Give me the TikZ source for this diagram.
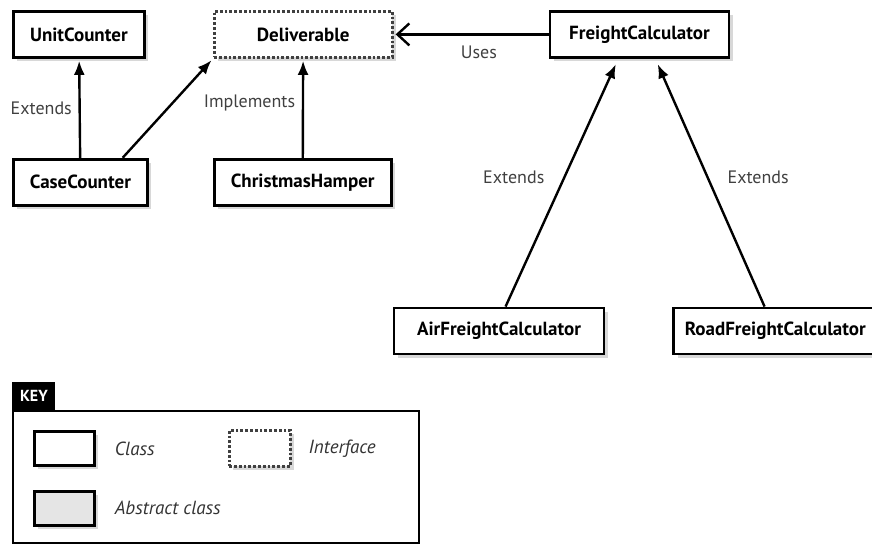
\documentclass[tikz,border=0pt]{standalone}
\usepackage{fontspec}
\setmainfont{PT Sans}
\usepackage{tikz}
\usetikzlibrary{arrows.meta, positioning, shadows}

\begin{document}
\begin{tikzpicture}[x=0.5pt, y=-0.5pt,
        cls/.style={draw, line width=1.4pt, fill=white, minimum height=23pt, inner sep=2pt,
            font=\bfseries\fontsize{9.5}{11}\selectfont,
            drop shadow={shadow xshift=2pt, shadow yshift=-2pt, fill=black!30}},
        iface/.style={cls, draw=black!75, densely dotted},
        abscls/.style={cls, fill=black!10},
        ext/.style={-{Latex[length=7pt, width=5.5pt]}, line width=1.2pt, shorten >=1pt},
        uses/.style={-{Straight Barb[length=6pt, width=11pt]}, line width=1.2pt, shorten >=1pt},
        lbl/.style={text=black!75, font=\fontsize{9}{11}\selectfont},
        keylbl/.style={text=black!80, font=\itshape\fontsize{9.5}{11}\selectfont}
    ]
        \useasboundingbox (0,0) rectangle (872,545);

        % Classes
        \node[cls, minimum width=65.5pt, anchor=north west] (unit) at (12,10) {UnitCounter};
        \node[iface, minimum width=89pt, right=33.5pt of unit] (deliv) {Deliverable};
        \node[cls, minimum width=89.5pt, right=77.5pt of deliv] (freight) {FreightCalculator};
        \node[cls, minimum width=67pt, below=49.5pt of unit.south west, anchor=north west] (case) {CaseCounter};
        \node[cls, minimum width=88.5pt, below=49.5pt of deliv.south west, anchor=north west] (hamper) {ChristmasHamper};
        \node[cls, minimum width=105pt, below=50pt of hamper.south east, anchor=north west] (air) {AirFreightCalculator};
        \node[cls, minimum width=101.5pt, right=33.5pt of air] (road) {RoadFreightCalculator};

        % Relations
        \draw[ext] (case) -- node[lbl, left] {Extends} (unit);
        \draw[ext] (case.30) -- (deliv.south west);
        \draw[ext] (hamper) -- node[lbl, left, pos=0.55] {Implements} (deliv);
        \draw[uses] (freight) -- node[lbl, below=2pt, pos=0.45] {Uses} (deliv);
        \draw[ext, shorten >=3pt] (air.75) -- node[lbl, left=6pt, pos=0.52] {Extends} (freight.229);
        \draw[ext, shorten >=3pt] (road) -- node[lbl, right=6pt, pos=0.52] {Extends} (freight.303);

        % Key
        \node[draw, line width=1pt, minimum width=203pt, minimum height=66pt, anchor=north west] (key) at (12,410) {};
        \node[fill=black, text=white, font=\bfseries\fontsize{8}{9}\selectfont, minimum width=21.5pt, minimum height=14pt,
            inner sep=1pt, anchor=south west] (keytag) at (key.north west) {KEY};
        \node[cls, minimum width=30pt, minimum height=17pt, anchor=north west] (kclass) at (33,430) {};
        \node[keylbl, right=6pt of kclass] (kclasstxt) {Class};
        \node[iface, minimum width=30.5pt, minimum height=18pt, right=66pt of kclass] (kiface) {};
        \node[keylbl, right=5pt of kiface] (kifacetxt) {Interface};
        \node[abscls, minimum width=30pt, minimum height=17pt, below=11.5pt of kclass] (kabs) {};
        \node[keylbl, right=6pt of kabs] (kabstxt) {Abstract class};
    \end{tikzpicture}
\end{document}
